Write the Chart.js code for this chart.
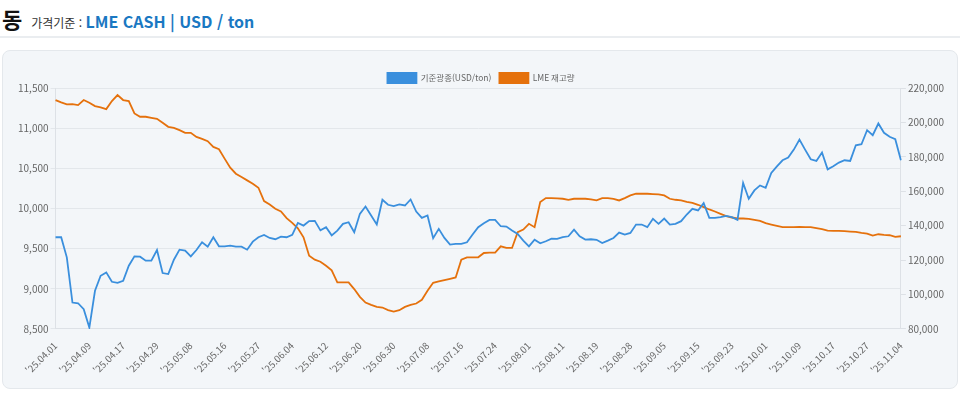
<!DOCTYPE html>
<html lang="ko">
<head>
<meta charset="utf-8">
<script src="https://cdn.jsdelivr.net/npm/chart.js@4.4.1/dist/chart.umd.min.js"></script>
<style>
    html, body { margin: 0; padding: 0; background: #fff; }
    body { width: 960px; height: 394px; position: relative; overflow: hidden; font-family: "Noto Sans CJK KR", "Noto Sans", sans-serif; }
    .head { position: absolute; left: 2px; top: 2px; white-space: nowrap; }
    .head .metal { font-size: 22px; font-weight: 700; color: #111; }
    .head .basis { font-size: 12px; color: #333; margin-left: 9px; }
    .head .unit { font-size: 16px; font-weight: 700; color: #1a78c2; }
    .rule { position: absolute; left: 0; top: 36px; width: 960px; height: 2px; background: #eaedf0; }
    .card { position: absolute; left: 2px; top: 50px; width: 954px; height: 337px; background: #f3f6f9; border: 1px solid #e4e8ec; border-radius: 8px; }
    #copperChart { position: absolute; left: 2px; top: 50px; }
</style>
</head>
<body>
<div class="head"><span class="metal">동</span><span class="basis">가격기준 : </span><span class="unit">LME CASH | USD / ton</span></div>
<div class="rule"></div>
<div class="card"></div>
<canvas id="copperChart" width="956" height="339"></canvas>

<script>
// 거래일 (LME 영업일)
const dates = [
    '25.04.01','25.04.02','25.04.03','25.04.04','25.04.07','25.04.08','25.04.09','25.04.10','25.04.11','25.04.14',
    '25.04.15','25.04.16','25.04.17','25.04.22','25.04.23','25.04.24','25.04.25','25.04.28','25.04.29','25.04.30',
    '25.05.01','25.05.02','25.05.06','25.05.07','25.05.08','25.05.09','25.05.12','25.05.13','25.05.14','25.05.15',
    '25.05.16','25.05.19','25.05.20','25.05.21','25.05.22','25.05.23','25.05.27','25.05.28','25.05.29','25.05.30',
    '25.06.02','25.06.03','25.06.04','25.06.05','25.06.06','25.06.09','25.06.10','25.06.11','25.06.12','25.06.13',
    '25.06.16','25.06.17','25.06.18','25.06.19','25.06.20','25.06.23','25.06.24','25.06.25','25.06.26','25.06.27',
    '25.06.30','25.07.01','25.07.02','25.07.03','25.07.04','25.07.07','25.07.08','25.07.09','25.07.10','25.07.11',
    '25.07.14','25.07.15','25.07.16','25.07.17','25.07.18','25.07.21','25.07.22','25.07.23','25.07.24','25.07.25',
    '25.07.28','25.07.29','25.07.30','25.07.31','25.08.01','25.08.04','25.08.05','25.08.06','25.08.07','25.08.08',
    '25.08.11','25.08.12','25.08.13','25.08.14','25.08.15','25.08.18','25.08.19','25.08.20','25.08.21','25.08.22',
    '25.08.26','25.08.27','25.08.28','25.08.29','25.09.01','25.09.02','25.09.03','25.09.04','25.09.05','25.09.08',
    '25.09.09','25.09.10','25.09.11','25.09.12','25.09.15','25.09.16','25.09.17','25.09.18','25.09.19','25.09.22',
    '25.09.23','25.09.24','25.09.25','25.09.26','25.09.29','25.09.30','25.10.01','25.10.02','25.10.03','25.10.06',
    '25.10.07','25.10.08','25.10.09','25.10.10','25.10.13','25.10.14','25.10.15','25.10.16','25.10.17','25.10.20',
    '25.10.21','25.10.22','25.10.23','25.10.24','25.10.27','25.10.28','25.10.29','25.10.30','25.10.31','25.11.03',
    '25.11.04'
];

// 기준광종 (USD/ton)
const cashPrice = [
    9642, 9642, 9392, 8829, 8820, 8746, 8517, 8975, 9162, 9204,
    9087, 9075, 9100, 9287, 9404, 9400, 9350, 9350, 9483, 9196,
    9183, 9362, 9487, 9475, 9404, 9483, 9579, 9525, 9642, 9529,
    9529, 9537, 9525, 9525, 9487, 9587, 9642, 9671, 9633, 9617,
    9650, 9642, 9671, 9821, 9787, 9842, 9846, 9727, 9767, 9665,
    9725, 9808, 9829, 9704, 9933, 10025, 9912, 9800, 10108, 10046,
    10029, 10050, 10037, 10112, 9962, 9883, 9912, 9629, 9746, 9633,
    9550, 9558, 9558, 9579, 9675, 9767, 9817, 9858, 9858, 9779,
    9775, 9725, 9683, 9600, 9529, 9612, 9567, 9592, 9625, 9621,
    9642, 9654, 9737, 9654, 9612, 9617, 9610, 9569, 9600, 9633,
    9700, 9675, 9696, 9800, 9800, 9767, 9871, 9808, 9875, 9800,
    9808, 9842, 9925, 9996, 9975, 10067, 9883, 9883, 9892, 9908,
    9892, 9858, 10317, 10121, 10225, 10287, 10258, 10442, 10525, 10600,
    10633, 10733, 10858, 10733, 10612, 10592, 10696, 10487, 10525, 10571,
    10600, 10592, 10787, 10800, 10975, 10912, 11058, 10942, 10892, 10862,
    10600
];

// LME 재고량 (ton)
const lmeStock = [
    213000, 211650, 210480, 210600, 210080, 213000, 211450, 209500, 208720, 207750,
    212400, 215900, 213000, 212400, 205240, 203300, 203300, 202700, 202100, 199760,
    197430, 196850, 195500, 193950, 193950, 191600, 190450, 189080, 185760, 184420,
    178970, 173720, 170220, 168250, 166330, 164400, 162060, 154260, 152310, 149830,
    148280, 144350, 141620, 138510, 133250, 122580, 120250, 119080, 116750, 114000,
    107010, 107010, 107010, 103160, 98670, 95340, 94000, 92830, 92440, 90900,
    90120, 90900, 92830, 94000, 94780, 96920, 102170, 106830, 107600, 108380,
    109160, 109940, 120250, 121610, 121610, 121610, 124140, 124330, 124330, 128030,
    127060, 127060, 136210, 137760, 141070, 139130, 153700, 156030, 156030, 155840,
    155640, 155060, 155640, 155640, 155640, 155250, 154670, 156030, 156030, 155640,
    154670, 156030, 157580, 158550, 158550, 158550, 158360, 158170, 157580, 155640,
    155060, 154670, 153890, 153300, 152140, 150780, 149420, 148250, 146890, 145530,
    144750, 144170, 144170, 143970, 143390, 142800, 141440, 140660, 139880, 139110,
    139110, 139110, 139300, 139110, 139110, 138520, 137940, 137170, 136970, 136970,
    136780, 136580, 136390, 135810, 135420, 134250, 135030, 134640, 134450, 133480,
    133860
];

const priceTicks = { min: 8500, max: 11500, step: 500 };
const stockTicks = { min: 80000, max: 220000, step: 20000 };
const labelEvery = 6;

const FONT = "'Noto Sans CJK KR', 'Noto Sans', sans-serif";
const ctx = document.getElementById('copperChart').getContext('2d');

// 범례 아래 여백 줄이기
const legendGap = {
    id: 'legendGap',
    beforeInit(chart) {
        const fit = chart.legend.fit;
        chart.legend.fit = function () {
            fit.bind(chart.legend)();
            this.height -= 5;
        };
    }
};

new Chart(ctx, {
    type: 'line',
    data: {
        labels: dates.map(d => "'" + d),
        datasets: [
            {
                label: '기준광종(USD/ton)',
                data: cashPrice,
                yAxisID: 'y',
                borderColor: '#3a8fdd',
                backgroundColor: '#3a8fdd',
                borderWidth: 1.8,
                pointRadius: 0,
                tension: 0
            },
            {
                label: 'LME 재고량',
                data: lmeStock,
                yAxisID: 'y1',
                borderColor: '#e5710c',
                backgroundColor: '#e5710c',
                borderWidth: 1.8,
                pointRadius: 0,
                tension: 0
            }
        ]
    },
    options: {
        responsive: false,
        animation: false,
        devicePixelRatio: 1,
        layout: { padding: { top: 15, left: 14, right: 12, bottom: 10 } },
        plugins: {
            legend: {
                position: 'top',
                labels: {
                    boxWidth: 29,
                    boxHeight: 10,
                    padding: 8,
                    color: '#666',
                    font: { family: FONT, size: 8.5 }
                }
            },
            tooltip: { enabled: false }
        },
        scales: {
            x: {
                grid: { display: false },
                border: { color: '#dde1e6' },
                ticks: {
                    autoSkip: false,
                    maxRotation: 45,
                    minRotation: 45,
                    color: '#666',
                    font: { family: FONT, size: 9.5 },
                    callback: function (v, i) {
                        return i % labelEvery === 0 ? this.getLabelForValue(v) : null;
                    }
                }
            },
            y: {
                position: 'left',
                min: priceTicks.min,
                max: priceTicks.max,
                grid: { color: '#e3e7eb', tickLength: 5 },
                border: { color: '#dde1e6' },
                ticks: {
                    stepSize: priceTicks.step,
                    padding: 2,
                    color: '#666',
                    font: { family: FONT, size: 10 },
                    callback: v => v.toLocaleString('en-US')
                }
            },
            y1: {
                position: 'right',
                min: stockTicks.min,
                max: stockTicks.max,
                grid: { drawOnChartArea: false, color: '#dde1e6', tickLength: 5 },
                border: { color: '#dde1e6' },
                ticks: {
                    stepSize: stockTicks.step,
                    padding: 2,
                    color: '#666',
                    font: { family: FONT, size: 10 },
                    callback: v => v.toLocaleString('en-US')
                }
            }
        }
    },
    plugins: [legendGap]
});
</script>
</body>
</html>
